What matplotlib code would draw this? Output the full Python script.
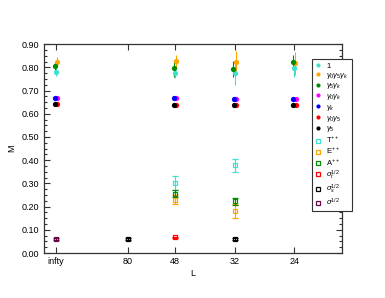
import numpy as np
import matplotlib
matplotlib.use('Agg')
import matplotlib.pyplot as plt
from matplotlib.ticker import MultipleLocator, FormatStrFormatter

plt.rcParams['font.family'] = ['Liberation Sans', 'DejaVu Sans']
plt.rcParams['mathtext.fontset'] = 'custom'
plt.rcParams['mathtext.rm'] = 'Liberation Sans'
plt.rcParams['mathtext.it'] = 'Liberation Sans:italic'

# lattice sizes (x axis is 1/L, infinite volume at 0)
L_ticks = [np.inf, 80, 48, 32, 24]
L_tick_labels = ['infty', '80', '48', '32', '24']

L_main = [np.inf, 48, 32, 24]

# filled circles: ratios at each L
one_M = [0.781, 0.776, 0.774, 0.795]
one_err = [0.020, 0.020, 0.050, 0.035]
g05k_M = [0.824, 0.827, 0.821, 0.817]
g05k_err = [0.022, 0.028, 0.050, 0.048]
g5k_M = [0.805, 0.795, 0.792, 0.821]
g5k_err = [0.020, 0.036, 0.035, 0.030]
g0k_M = [0.667, 0.667, 0.665, 0.665]
gk_M = [0.667, 0.667, 0.665, 0.665]
g05_M = [0.640, 0.639, 0.637, 0.638]
g5_M = [0.640, 0.639, 0.637, 0.638]

# open squares: glueballs and string tensions
L_glue = [48, 32]
T_M = [0.301, 0.377]
T_err = [0.030, 0.030]
E_M = [0.229, 0.181]
E_err = [0.020, 0.030]
A_M = [0.255, 0.223]
A_err = [0.015, 0.015]

L_sigt = [48]
sigt_M = [0.067]
L_sigs = [80, 32]
sigs_M = [0.060, 0.060]
L_sig = [np.inf]
sig_M = [0.060]

legend_labels = ['1', r'$\gamma_0\gamma_5\gamma_k$', r'$\gamma_5\gamma_k$', r'$\gamma_0\gamma_k$',
                 r'$\gamma_k$', r'$\gamma_0\gamma_5$', r'$\gamma_5$', r'T$^{++}$', r'E$^{++}$',
                 r'A$^{++}$', r'$\sigma_t^{1/2}$', r'$\sigma_s^{1/2}$', r'$\sigma^{1/2}$']

turq = '#40E0D0'
orange = '#FFA500'
green = '#008B00'
magenta = '#FF00FF'
blue = '#0000FF'
red = '#FF0000'
maroon = '#670748'

px = 1 / 5715.0  # one pixel in 1/L units


def inv(Ls):
    return np.array([0.0 if np.isinf(l) else 1.0 / l for l in Ls])


fig = plt.figure(figsize=(3.85, 2.98), dpi=100)
ax = fig.add_axes([0.1143, 0.151, 0.7740, 0.701])

circ = dict(marker='o', ms=3.8, ls='none', mew=0)
sq = dict(marker='s', ms=3.2, ls='none', mfc='none', mew=0.9)
eb = dict(elinewidth=0.8, capsize=2.2, capthick=0.8)

h = []
h.append(ax.errorbar(inv(L_main), one_M, yerr=one_err, color=turq, **circ, **eb)[0])
h.append(ax.errorbar(inv(L_main) + 1.0 * px, g05k_M, yerr=g05k_err, color=orange, **circ, **eb)[0])
h.append(ax.errorbar(inv(L_main) - 1.5 * px, g5k_M, yerr=g5k_err, color=green, **circ, **eb)[0])
h.append(ax.plot(inv(L_main) + 1.2 * px, g0k_M, color=magenta, **circ)[0])
h.append(ax.plot(inv(L_main) - 1.0 * px, gk_M, color=blue, **circ)[0])
h.append(ax.plot(inv(L_main) + 1.2 * px, g05_M, color=red, **circ)[0])
h.append(ax.plot(inv(L_main) - 1.2 * px, g5_M, color='black', **circ)[0])

h.append(ax.errorbar(inv(L_glue), T_M, yerr=T_err, color=turq, **sq, **eb)[0])
h.append(ax.errorbar(inv(L_glue), E_M, yerr=E_err, color=orange, **sq, **eb)[0])
h.append(ax.errorbar(inv(L_glue), A_M, yerr=A_err, color=green, **sq, **eb)[0])
h.append(ax.errorbar(inv(L_sigt), sigt_M, yerr=[0.004], color=red, **sq, **eb)[0])
h.append(ax.errorbar(inv(L_sigs), sigs_M, yerr=[0.003, 0.003], color='black', **sq, **eb)[0])
h.append(ax.errorbar(inv(L_sig), sig_M, yerr=[0.003], color=maroon, **sq, **eb)[0])

ax.set_xlim(-0.0021, 0.0500)
ax.set_ylim(0.0, 0.9)
ax.set_xticks(inv(L_ticks))
ax.set_xticklabels(L_tick_labels)
ax.yaxis.set_major_locator(MultipleLocator(0.1))
ax.yaxis.set_minor_locator(MultipleLocator(0.025))
ax.yaxis.set_major_formatter(FormatStrFormatter('%.2f'))
ax.tick_params(which='both', direction='in', top=True, right=True, labelsize=6.5,
               color='#333333', width=0.8)
ax.tick_params(which='major', length=4)
ax.tick_params(which='minor', length=2)
ax.tick_params(axis='x', pad=3)
for s in ax.spines.values():
    s.set_linewidth(0.9)
    s.set_color('#333333')

ax.set_xlabel('L', fontsize=6.5, labelpad=2)
ax.set_ylabel('M', fontsize=6.5, labelpad=4)

leg = fig.legend(h, legend_labels, loc='upper left', bbox_to_anchor=(0.810, 0.802),
                 fontsize=5.5, frameon=True, fancybox=False, edgecolor='#333333',
                 framealpha=1, labelspacing=0.1, handlelength=0.8,
                 handletextpad=0.6, borderpad=0.45, borderaxespad=0)
leg.get_frame().set_linewidth(0.8)
for lh in leg.legend_handles:
    lh.set_markersize(3.0)

fig.savefig('out.png', dpi=100)
